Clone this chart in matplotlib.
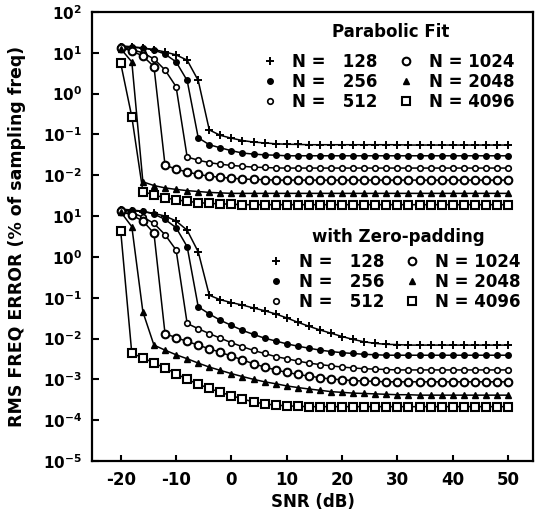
import math
import matplotlib
matplotlib.use("Agg")
import matplotlib.pyplot as plt
from matplotlib.lines import Line2D
from matplotlib.ticker import FixedLocator, FuncFormatter, NullLocator

plt.rcParams['font.family'] = ['DejaVu Sans']
plt.rcParams['font.weight'] = 'bold'
plt.rcParams['axes.unicode_minus'] = False

# ---------------- data ----------------
snr_db = [-20, -18, -16, -14, -12, -10, -8, -6, -4, -2, 0, 2, 4, 6, 8, 10, 12, 14,
          16, 18, 20, 22, 24, 26, 28, 30, 32, 34, 36, 38, 40, 42, 44, 46, 48, 50]

n_labels = ["128", "256", "512", "1024", "2048", "4096"]

# Parabolic fit (upper group)
pf_128 = [14.1, 13.5, 13.2, 12.0, 10.5, 8.9, 6.6, 2.1, 0.129, 0.095, 0.081, 0.071, 0.065, 0.062,
          0.059, 0.0575, 0.057, 0.056, 0.056, 0.056, 0.056, 0.056, 0.056, 0.056, 0.056, 0.056,
          0.055, 0.055, 0.055, 0.055, 0.055, 0.055, 0.055, 0.055, 0.055, 0.055]
pf_256 = [14.8, 14.1, 13.2, 11.7, 9.3, 6.0, 2.1, 0.083, 0.056, 0.047, 0.040, 0.035, 0.033, 0.0316,
          0.031, 0.030, 0.030, 0.030, 0.030, 0.030, 0.030, 0.030, 0.030, 0.030, 0.030, 0.030,
          0.030, 0.030, 0.030, 0.030, 0.030, 0.030, 0.030, 0.030, 0.030, 0.030]
pf_512 = [13.5, 12.0, 10.0, 7.1, 3.8, 1.48, 0.028, 0.0234, 0.0204, 0.0186, 0.0174, 0.0166, 0.0158,
          0.0155, 0.0151, 0.015, 0.015, 0.015, 0.015, 0.015, 0.015, 0.015, 0.015, 0.015, 0.015,
          0.015, 0.015, 0.015, 0.015, 0.015, 0.015, 0.015, 0.015, 0.015, 0.015, 0.015]
pf_1024 = [13.2, 11.2, 8.3, 4.6, 0.0178, 0.0141, 0.012, 0.0105, 0.0095, 0.0089, 0.0085, 0.0081,
           0.0079, 0.0078, 0.0076, 0.0076, 0.0076, 0.0076, 0.0076, 0.0076, 0.0076, 0.0076, 0.0076,
           0.0076, 0.0076, 0.0076, 0.0076, 0.0076, 0.0076, 0.0076, 0.0076, 0.0076, 0.0076, 0.0076,
           0.0076, 0.0076]
pf_2048 = [12.6, 6.0, 0.0069, 0.0056, 0.0049, 0.0045, 0.0042, 0.0040, 0.0038, 0.0037, 0.0036,
           0.0036, 0.0036, 0.0036, 0.0036, 0.0036, 0.0036, 0.0036, 0.0036, 0.0036, 0.0036, 0.0036,
           0.0036, 0.0036, 0.0036, 0.0036, 0.0036, 0.0036, 0.0036, 0.0036, 0.0036, 0.0036, 0.0036,
           0.0036, 0.0036, 0.0036]
pf_4096 = [5.5, 0.27, 0.0040, 0.0033, 0.0028, 0.0025, 0.0023, 0.00214, 0.00204, 0.0020, 0.00195,
           0.0019, 0.0019, 0.0019, 0.0019, 0.0019, 0.0019, 0.0019, 0.0019, 0.0019, 0.0019, 0.0019,
           0.0019, 0.0019, 0.0019, 0.0019, 0.0019, 0.0019, 0.0019, 0.0019, 0.0019, 0.0019, 0.0019,
           0.0019, 0.0019, 0.0019]

# With zero-padding (lower group)
zp_128 = [14.1, 13.5, 12.9, 11.7, 10.0, 7.6, 4.5, 1.33, 0.115, 0.089, 0.076, 0.066, 0.056, 0.048,
          0.040, 0.032, 0.025, 0.020, 0.0162, 0.0135, 0.0112, 0.0095, 0.0083, 0.0076, 0.0072,
          0.0071, 0.0069, 0.0069, 0.0069, 0.0069, 0.0069, 0.0069, 0.0069, 0.0069, 0.0069, 0.0069]
zp_256 = [14.8, 14.1, 13.2, 11.2, 8.3, 5.2, 1.78, 0.060, 0.040, 0.028, 0.021, 0.0158, 0.0126,
          0.0102, 0.0087, 0.0074, 0.0065, 0.0058, 0.0052, 0.0048, 0.0045, 0.0043, 0.0041, 0.0040,
          0.0039, 0.0039, 0.0039, 0.0039, 0.0039, 0.0039, 0.0039, 0.0039, 0.0039, 0.0039, 0.0039,
          0.0039]
zp_512 = [13.5, 12.0, 9.5, 6.6, 3.5, 1.48, 0.0234, 0.0174, 0.0132, 0.0102, 0.0079, 0.0063, 0.0051,
          0.0043, 0.0036, 0.0032, 0.0028, 0.0025, 0.0023, 0.00214, 0.0020, 0.0019, 0.00182,
          0.00178, 0.00174, 0.0017, 0.0017, 0.0017, 0.0017, 0.0017, 0.0017, 0.0017, 0.0017,
          0.0017, 0.0017, 0.0017]
zp_1024 = [13.2, 10.5, 7.6, 3.8, 0.0132, 0.0105, 0.0085, 0.0069, 0.0056, 0.0046, 0.0037, 0.0030,
           0.0024, 0.0020, 0.0017, 0.00148, 0.00132, 0.0012, 0.0011, 0.00102, 0.00098, 0.00093,
           0.00091, 0.00089, 0.00087, 0.00087, 0.00087, 0.00087, 0.00087, 0.00087, 0.00087,
           0.00087, 0.00087, 0.00087, 0.00087, 0.00087]
zp_2048 = [12.6, 5.5, 0.045, 0.0069, 0.0052, 0.0040, 0.0032, 0.0025, 0.0020, 0.00166, 0.00138,
           0.00117, 0.0010, 0.00087, 0.00078, 0.00069, 0.00063, 0.00058, 0.00054, 0.0005, 0.00048,
           0.00046, 0.00045, 0.00044, 0.00043, 0.00042, 0.00042, 0.00041, 0.00041, 0.00041,
           0.00041, 0.00041, 0.00041, 0.00041, 0.00041, 0.00041]
zp_4096 = [4.2, 0.0043, 0.0034, 0.0025, 0.0019, 0.00138, 0.0010, 0.00076, 0.0006, 0.00048, 0.0004,
           0.00033, 0.00028, 0.00025, 0.000234, 0.000224, 0.000219, 0.000214, 0.000214, 0.000214,
           0.000214, 0.000214, 0.000214, 0.000214, 0.000214, 0.000214, 0.000214, 0.000214,
           0.000214, 0.000214, 0.000214, 0.000214, 0.000214, 0.000214, 0.000214, 0.000214]

top_ticks = [1e-2, 1e-1, 1e0, 1e1, 1e2]
bottom_ticks = [1e-5, 1e-4, 1e-3, 1e-2, 1e-1, 1e0, 1e1]
x_ticks = [-20, -10, 0, 10, 20, 30, 40, 50]

# ---------------- styles ----------------
styles = [
    dict(marker='+', ms=5.5, mew=1.4, mfc='black'),
    dict(marker='o', ms=4.0, mew=1.0, mfc='black'),
    dict(marker='o', ms=4.0, mew=1.2, mfc='white'),
    dict(marker='o', ms=5.5, mew=1.5, mfc='white'),
    dict(marker='^', ms=4.5, mew=1.0, mfc='black'),
    dict(marker='s', ms=5.5, mew=1.5, mfc='white'),
]

fig = plt.figure(figsize=(5.36, 5.15), dpi=100)
rect = [0.1716, 0.1049, 0.8228, 0.8718]
ax = fig.add_axes(rect)
axt = fig.add_axes(rect, sharex=ax)
axt.patch.set_visible(False)
for s in axt.spines.values():
    s.set_visible(False)
for s in ax.spines.values():
    s.set_linewidth(1.6)

fmt = FuncFormatter(lambda v, p: r'$\mathbf{10^{%d}}$' % round(math.log10(v)))

ax.set_yscale('log')
ax.set_ylim(1e-5, 1e6)
ax.yaxis.set_major_locator(FixedLocator(bottom_ticks))
ax.yaxis.set_minor_locator(NullLocator())
ax.yaxis.set_major_formatter(fmt)

axt.set_yscale('log')
axt.set_ylim(1e-9, 1e2)
axt.yaxis.set_major_locator(FixedLocator(top_ticks))
axt.yaxis.set_minor_locator(NullLocator())
axt.yaxis.set_major_formatter(fmt)

ax.set_xlim(-25.2, 54.5)
ax.xaxis.set_major_locator(FixedLocator(x_ticks))
ax.xaxis.set_minor_locator(NullLocator())

for a in (ax, axt):
    a.tick_params(axis='y', direction='in', length=5, width=1.5, labelsize=11, pad=7,
                  right=False)
axt.tick_params(axis='x', bottom=False, top=False, labelbottom=False)
ax.tick_params(axis='x', direction='in', length=4, width=1.5, labelsize=12, pad=7, top=False)

pf_series = [pf_128, pf_256, pf_512, pf_1024, pf_2048, pf_4096]
zp_series = [zp_128, zp_256, zp_512, zp_1024, zp_2048, zp_4096]

for vals, st in zip(pf_series, styles):
    axt.plot(snr_db, vals, color='black', lw=1.1, mec='black', **st)
for vals, st in zip(zp_series, styles):
    ax.plot(snr_db, vals, color='black', lw=1.1, mec='black', **st)

handles = [Line2D([], [], ls='none', color='black', mec='black', **st) for st in styles]
labels = ["N =   " + n if len(n) == 3 else "N = " + n for n in n_labels]

leg_kw = dict(ncol=2, frameon=False, fontsize=12, handlelength=1.0,
              handletextpad=0.85, columnspacing=1.2, labelspacing=0.11, borderpad=0.0,
              borderaxespad=0.0, loc='center')
leg1 = axt.legend(handles, labels, bbox_to_anchor=(0.671, 0.844), **leg_kw)
leg2 = ax.legend(handles, labels, bbox_to_anchor=(0.685, 0.399), **leg_kw)
axt.text(0.678, 0.955, "Parabolic Fit", transform=axt.transAxes, ha='center', va='center',
         fontsize=12, fontweight='bold')
ax.text(0.694, 0.499, "with Zero-padding", transform=ax.transAxes, ha='center', va='center',
        fontsize=12, fontweight='bold')

ax.set_xlabel("SNR (dB)", fontsize=12, fontweight='bold', labelpad=3)
ax.set_ylabel("RMS FREQ ERROR (% of sampling freq)", fontsize=12.5, fontweight='bold')
ax.yaxis.set_label_coords(-0.150, 0.5)

fig.savefig("out.png", dpi=100)
